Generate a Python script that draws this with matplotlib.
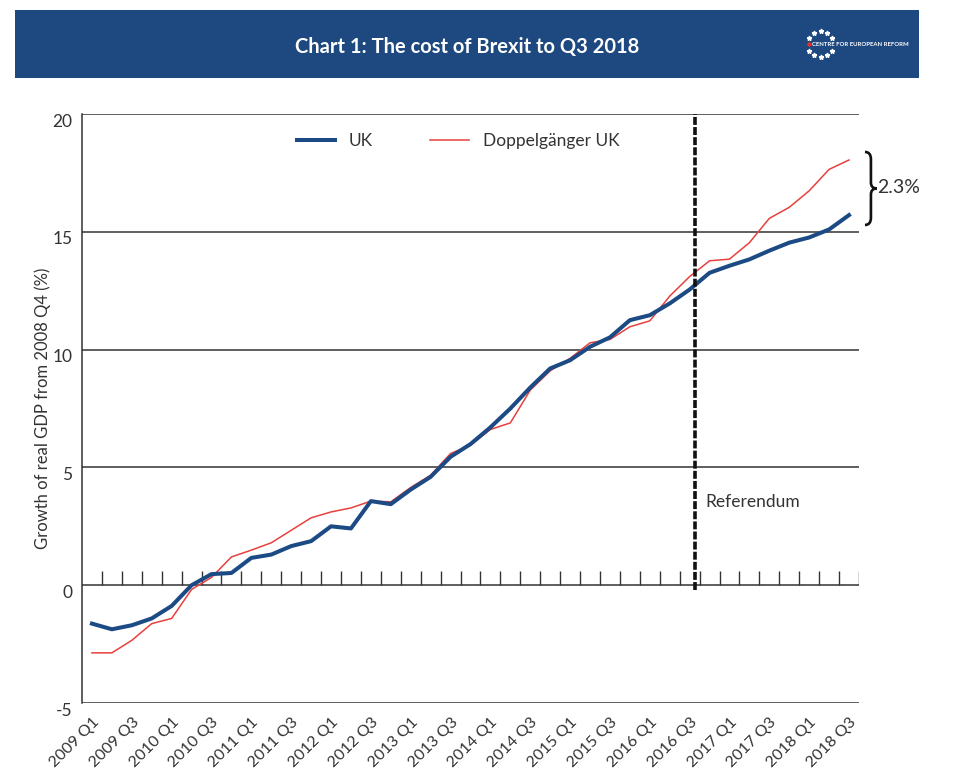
import numpy as np
import matplotlib
matplotlib.use("Agg")
import matplotlib.pyplot as plt
import matplotlib.transforms as mtransforms
from matplotlib.path import Path
from matplotlib.patches import PathPatch, Rectangle

plt.rcParams["font.family"] = ["Lato", "DejaVu Sans"]

# ==========================================
# Data
# ==========================================
years = range(2009, 2019)
quarters = [f"{y} Q{q}" for y in years for q in range(1, 5)][:39]  # 2009 Q1 .. 2018 Q3

uk = [-1.63, -1.87, -1.70, -1.41, -0.88, 0.00, 0.47, 0.52, 1.16, 1.30,
      1.66, 1.87, 2.50, 2.41, 3.57, 3.44, 4.06, 4.60, 5.45, 5.99,
      6.70, 7.50, 8.39, 9.20, 9.55, 10.12, 10.52, 11.25, 11.46, 11.96,
      12.55, 13.26, 13.56, 13.83, 14.20, 14.54, 14.76, 15.10, 15.71]

doppel = [-2.87, -2.87, -2.34, -1.63, -1.41, -0.18, 0.33, 1.20, 1.49, 1.80,
          2.33, 2.86, 3.11, 3.28, 3.57, 3.54, 4.15, 4.67, 5.59, 5.94,
          6.61, 6.89, 8.28, 9.10, 9.63, 10.29, 10.43, 10.97, 11.22, 12.27,
          13.10, 13.77, 13.84, 14.54, 15.57, 16.04, 16.74, 17.65, 18.05]

tick_labels = quarters[::2]
y_ticks = [-5, 0, 5, 10, 15, 20]
referendum_pos = 30.27  # between 2016 Q2 and 2016 Q3

blue = "#1c4a84"
red = "#e8403e"
ink = "#333333"

x = np.arange(len(quarters))

# ==========================================
# Figure
# ==========================================
fig = plt.figure(figsize=(9.59, 7.82), dpi=100)

# header band
fig.patches.append(Rectangle((0.0156, 0.9003), 0.9427, 0.087, transform=fig.transFigure,
                             facecolor="#1d4880", edgecolor="none"))
fig.text(0.487, 0.940, "Chart 1: The cost of Brexit to Q3 2018", color="white",
         fontsize=14.5, fontweight="bold", ha="center", va="center")

# little logo (ring of stars + name)
cx, cy, r = 820.7 / 959, 1 - 44 / 782, 13
ang = np.linspace(0, 2 * np.pi, 12, endpoint=False)
sx = cx + r * np.cos(ang) / 959
sy = cy + r * np.sin(ang) / 782
keep = np.abs(np.cos(ang)) < 0.9  # text covers the left/right side of the ring
fig.add_artist(plt.Line2D(sx[keep], sy[keep], transform=fig.transFigure, linestyle="none",
                          marker="*", markersize=3.5, color="white"))
fig.add_artist(plt.Line2D([808.5 / 959], [cy], transform=fig.transFigure, linestyle="none",
                          marker="o", markersize=2.2, color="#e03030"))
fig.text(812 / 959, cy, "CENTRE FOR EUROPEAN REFORM", color="white", fontsize=4.3,
         fontweight="bold", ha="left", va="center")

ax = fig.add_axes([0.0855, 0.1010, 0.8102, 0.7532])

ax.plot(x, uk, color=blue, linewidth=2.9, label="UK", solid_joinstyle="round", zorder=4)
ax.plot(x, doppel, color=red, linewidth=1.1, label="Doppelgänger UK", zorder=3)

ax.set_xlim(-0.5, len(quarters) - 0.5)
ax.set_ylim(-5, 20)

# horizontal grid lines
for v in y_ticks:
    ax.axhline(v, color=ink, linewidth=1.1, zorder=1)

# small upward ticks on the zero line at the quarter boundaries
ax.vlines(x + 0.5, 0, 0.6, color=ink, linewidth=1.0, zorder=1)

# referendum marker
ax.plot([referendum_pos, referendum_pos], [-0.2, 20], color="#111111", linewidth=2.6,
        linestyle=(0, (2.2, 0.6)), zorder=5, clip_on=False)
ax.text(referendum_pos + 0.52, 3.55, "Referendum", fontsize=12.5, color=ink,
        ha="left", va="center")

# brace showing the gap at the end
gap = doppel[-1] - uk[-1]
y0, y1 = uk[-1] - 0.42, doppel[-1] + 0.34
ym = (y0 + y1) / 2
bx, bw, h = len(quarters) - 0.5 + 0.3, 0.6, (y1 - y0)
verts = [(bx, y1), (bx + bw / 2, y1), (bx + bw / 2, y1 - 0.1 * h),
         (bx + bw / 2, ym + 0.08 * h),
         (bx + bw / 2, ym), (bx + bw, ym),
         (bx + bw / 2, ym), (bx + bw / 2, ym - 0.08 * h),
         (bx + bw / 2, y0 + 0.1 * h),
         (bx + bw / 2, y0), (bx, y0)]
codes = [Path.MOVETO, Path.CURVE3, Path.CURVE3, Path.LINETO,
         Path.CURVE3, Path.CURVE3, Path.CURVE3, Path.CURVE3,
         Path.LINETO, Path.CURVE3, Path.CURVE3]
ax.add_patch(PathPatch(Path(verts, codes), fill=False, edgecolor="#111111",
                       linewidth=1.9, clip_on=False))
ax.text(bx + bw + 0.0, ym + 0.05, f"{gap:.1f}%", fontsize=14, color=ink,
        ha="left", va="center", clip_on=False)

# axes styling
for side in ["top", "right", "bottom"]:
    ax.spines[side].set_visible(False)
ax.spines["left"].set_color(ink)
ax.spines["left"].set_linewidth(1.1)

ax.set_yticks(y_ticks)
ax.set_yticklabels([str(v) for v in y_ticks], fontsize=12.5, color=ink)
ax.tick_params(axis="y", length=0, pad=7)
offset = mtransforms.ScaledTranslation(0, -6 / 100, fig.dpi_scale_trans)
for lab in ax.get_yticklabels():
    lab.set_transform(lab.get_transform() + offset)

ax.set_xticks(x[::2] + 0.5)
ax.set_xticklabels(tick_labels, rotation=45, ha="right", fontsize=11.5, color=ink)
ax.tick_params(axis="x", length=0, pad=9)

ax.set_ylabel("Growth of real GDP from 2008 Q4 (%)", fontsize=12, color=ink, labelpad=1)

ax.legend(loc="upper center", bbox_to_anchor=(0.484, 0.995), ncol=2, frameon=False,
          fontsize=12.5, handlelength=2.2, columnspacing=3.3, handletextpad=0.8,
          labelcolor=ink)

fig.savefig("out.png", dpi=100)
